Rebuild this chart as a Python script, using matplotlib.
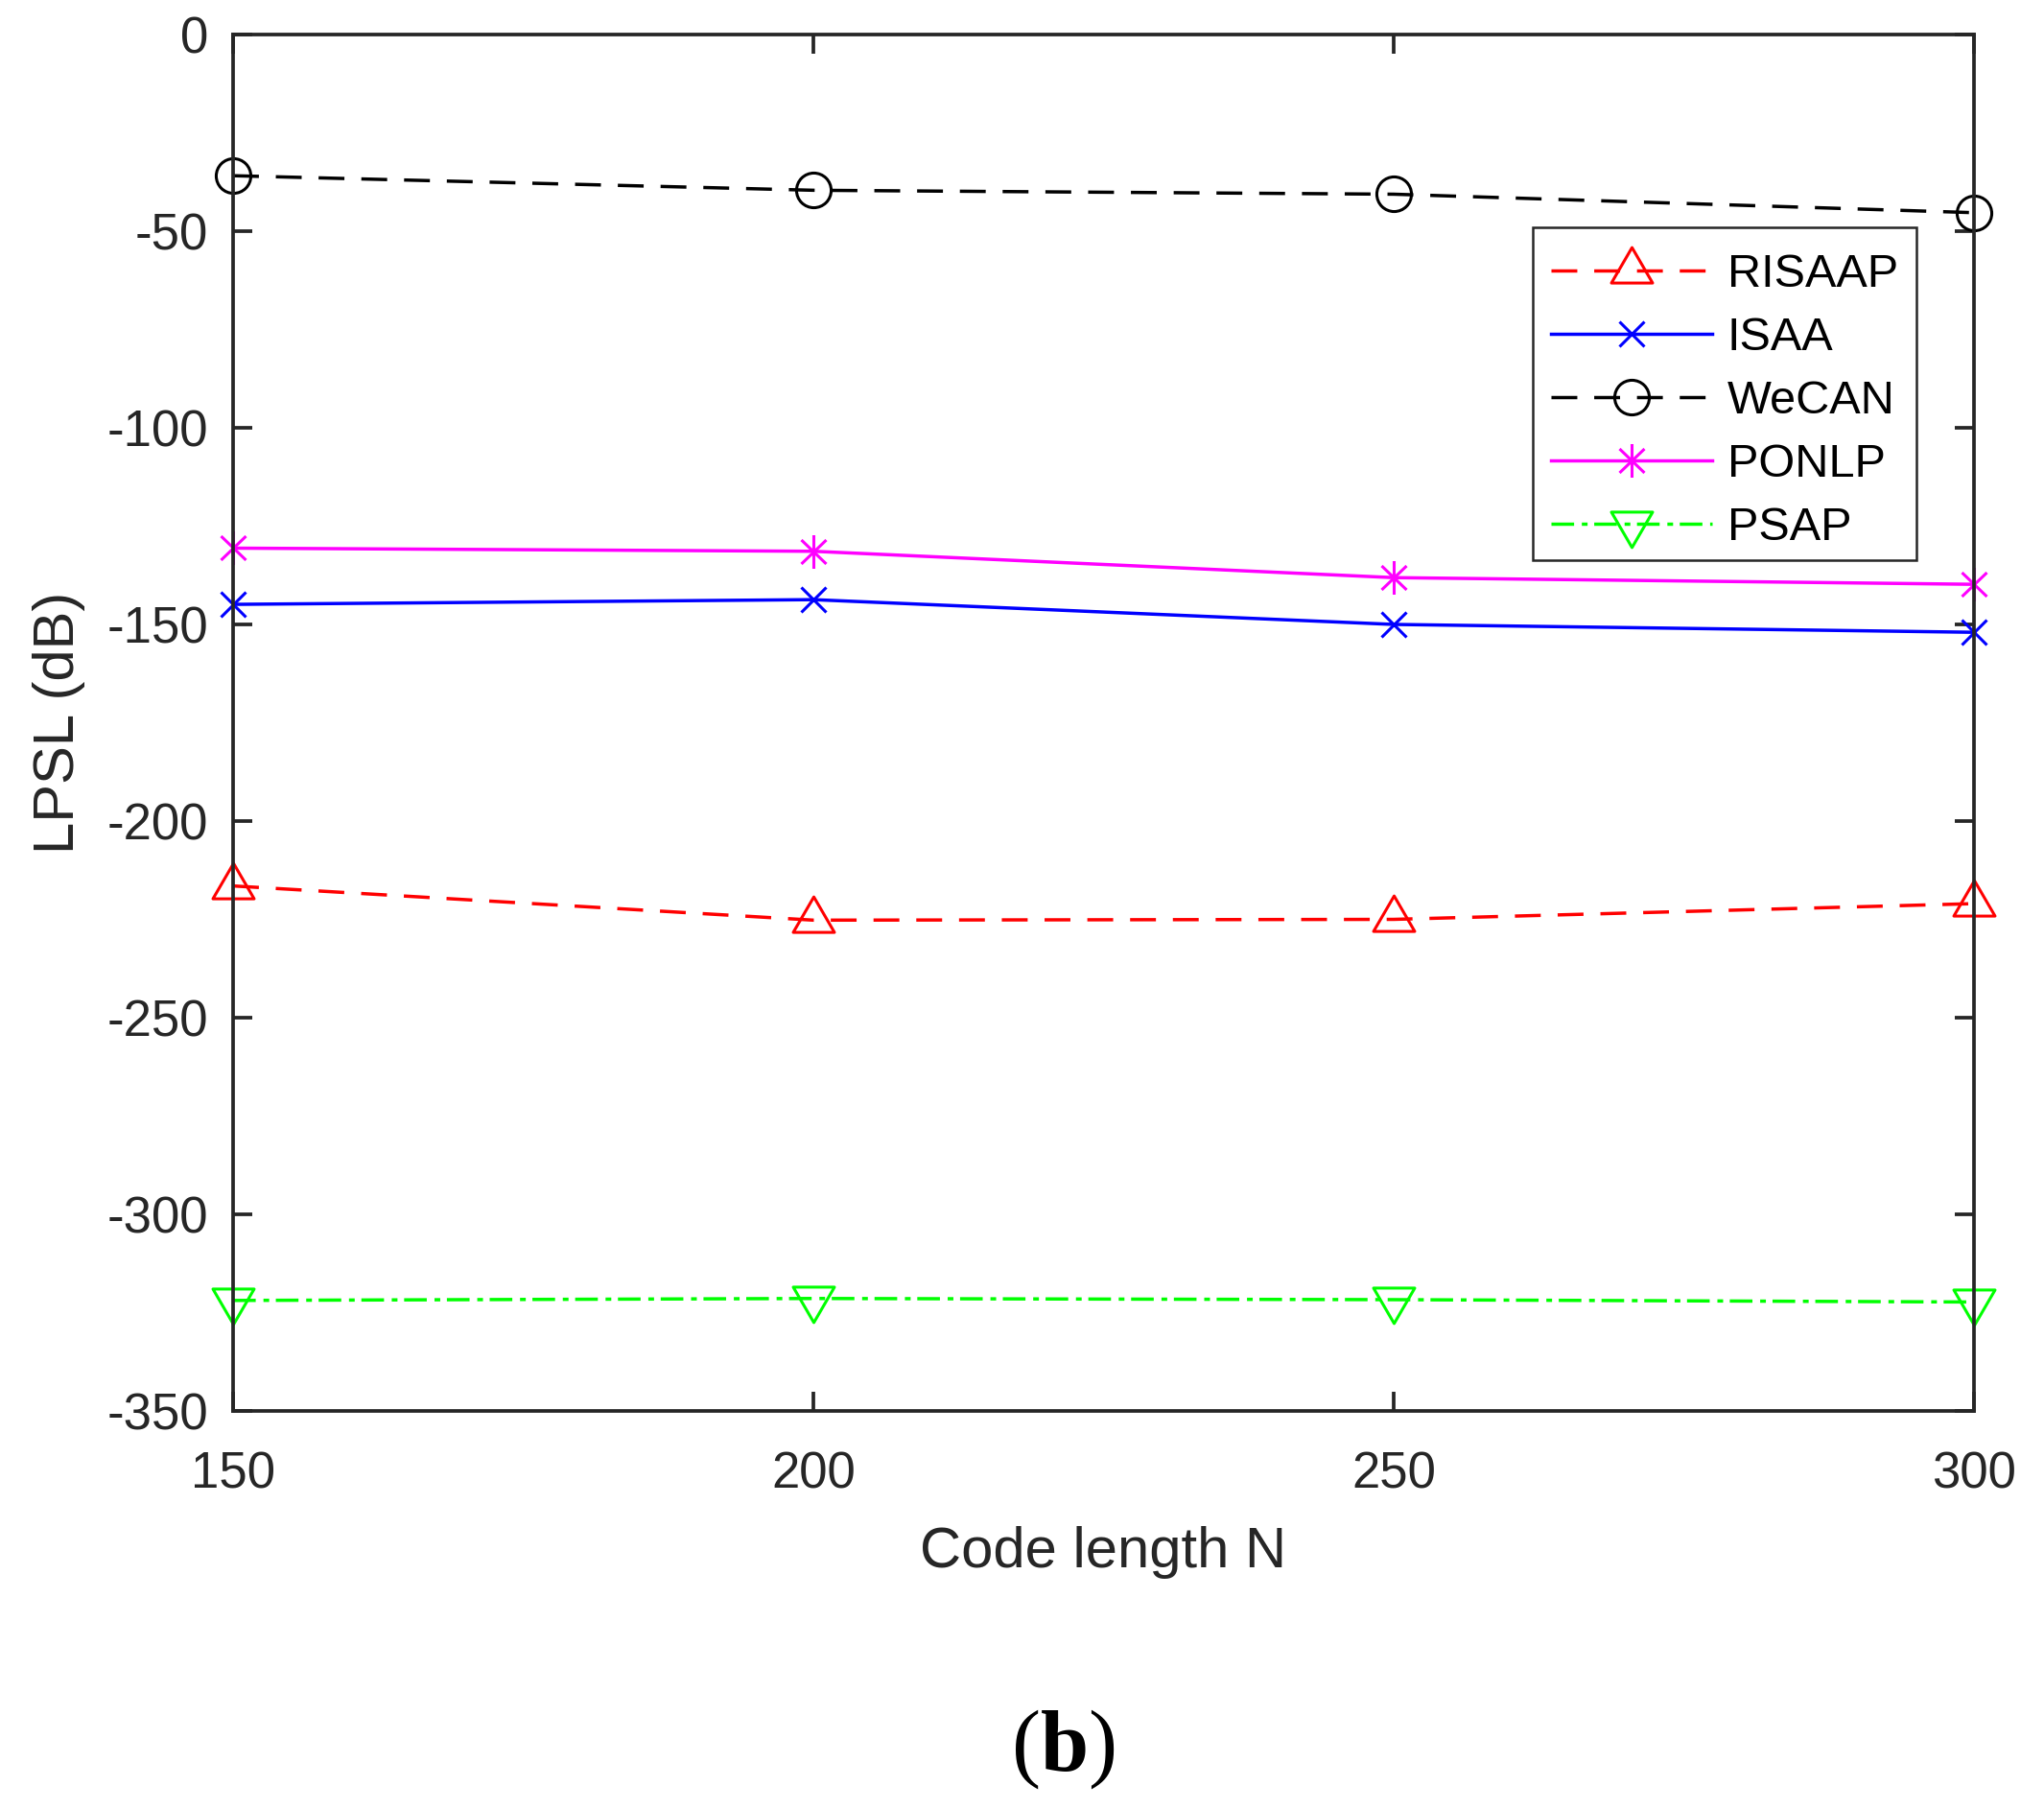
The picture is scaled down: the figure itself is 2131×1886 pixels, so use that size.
import matplotlib.pyplot as plt
from matplotlib.path import Path
from matplotlib.patches import Rectangle

plt.rcParams['font.family'] = ['Liberation Sans', 'DejaVu Sans']
plt.rcParams['lines.scale_dashes'] = False
plt.rcParams['mathtext.fontset'] = 'custom'
plt.rcParams['mathtext.rm'] = 'Liberation Serif'
plt.rcParams['mathtext.bf'] = 'Liberation Serif:bold'

code_len = [150, 200, 250, 300]
risaap = [-216.5, -225.2, -225.0, -221.0]
isaa = [-144.9, -143.7, -150.0, -152.0]
wecan = [-35.9, -39.6, -40.6, -45.3]
ponlp = [-130.6, -131.4, -138.1, -139.8]
psap = [-321.9, -321.4, -321.7, -322.3]
names = ['RISAAP', 'ISAA', 'WeCAN', 'PONLP', 'PSAP']
xticks = [150, 200, 250, 300]
yticks = [0, -50, -100, -150, -200, -250, -300, -350]

AX_COL = '#262626'

# MATLAB-like markers
tri_up = Path([(-21.5, -12.6), (21.5, -12.6), (0, 24.4), (-21.5, -12.6)],
              [Path.MOVETO, Path.LINETO, Path.LINETO, Path.CLOSEPOLY])
tri_dn = Path([(-21.5, 12.6), (21.5, 12.6), (0, -24.4), (-21.5, 12.6)],
              [Path.MOVETO, Path.LINETO, Path.LINETO, Path.CLOSEPOLY])
aster = Path([(0, -17.5), (0, 17.5), (-13, -12.5), (13, 12.5), (-13, 12.5), (13, -12.5)],
             [Path.MOVETO, Path.LINETO, Path.MOVETO, Path.LINETO, Path.MOVETO, Path.LINETO])

fig = plt.figure(figsize=(21.31, 18.86), dpi=100)
ax = fig.add_axes([243 / 2131, 1 - 1471 / 1886, (2058 - 243) / 2131, (1471 - 36) / 1886])

lw = 2.5
mew = 2.2
dash = (0, (19.4, 12.7))
dashdot = (0, (17, 5.8, 4.3, 5.0))

ax.plot(code_len, risaap, color='#ff0000', linestyle=dash, linewidth=lw, marker=tri_up,
        markersize=35.1, markerfacecolor='none', markeredgewidth=mew, label=names[0], clip_on=False)
ax.plot(code_len, isaa, color='#0000ff', linestyle='-', linewidth=lw, marker='x',
        markersize=19, markeredgewidth=mew, label=names[1], clip_on=False)
ax.plot(code_len, wecan, color='black', linestyle=dash, linewidth=lw, marker='o',
        markersize=26, markerfacecolor='none', markeredgewidth=mew, label=names[2], clip_on=False)
ax.plot(code_len, ponlp, color='#ff00ff', linestyle='-', linewidth=lw, marker=aster,
        markersize=25.2, markeredgewidth=mew, label=names[3], clip_on=False)
ax.plot(code_len, psap, color='#00ff00', linestyle=dashdot, linewidth=lw, marker=tri_dn,
        markersize=35.1, markerfacecolor='none', markeredgewidth=mew, label=names[4], clip_on=False)

ax.set_xlim(150, 300)
ax.set_ylim(-350, 0)
ax.set_xticks(xticks)
ax.set_yticks(yticks)
ax.set_yticklabels([str(v) for v in yticks])
ax.tick_params(direction='in', length=14.4, width=2.7, top=True, right=True,
               labelsize=38, colors=AX_COL)
ax.tick_params(axis='y', pad=18.7)
ax.tick_params(axis='x', pad=30)
for sp in ax.spines.values():
    sp.set_linewidth(2.7)
    sp.set_color(AX_COL)

ax.set_xlabel('Code length N', fontsize=43, color=AX_COL)
ax.xaxis.set_label_coords(0.5, -0.0836)
ax.set_ylabel('LPSL (dB)', fontsize=43, color=AX_COL)
ax.yaxis.set_label_coords(-0.085, 0.5)

# legend box drawn separately so the content can sit a bit lower, as in MATLAB
box = Rectangle((0.7466, 0.6181), 0.2204, 0.2418, transform=ax.transAxes,
                facecolor='white', edgecolor=AX_COL, linewidth=1.8, zorder=4, clip_on=False)
ax.add_patch(box)
leg = ax.legend(loc='upper right', bbox_to_anchor=(0.967, 0.8544), borderaxespad=0,
                fontsize=35, handlelength=3.46, handletextpad=0.31, labelspacing=0.43,
                borderpad=0.4, frameon=False)
leg.set_zorder(5)

fig.text(1108 / 2131, 1 - 1824 / 1886, r'($\mathbf{b}$)', fontsize=65,
         family='Liberation Serif', ha='center', va='center', color='black')

fig.savefig('out.png', dpi=100, facecolor='white')
